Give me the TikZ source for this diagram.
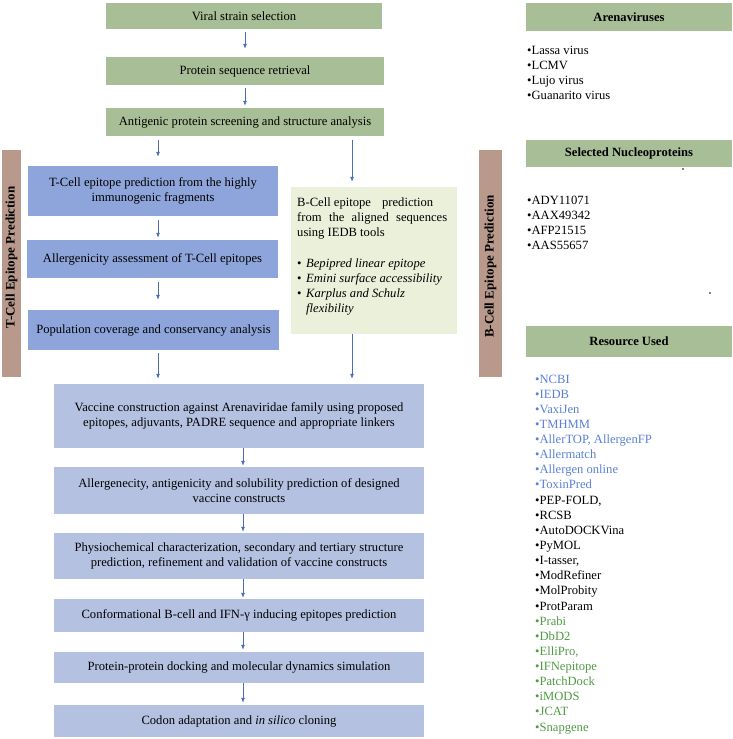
\documentclass[tikz,border=0pt]{standalone}
\usepackage{fontspec}
\setmainfont{Liberation Serif}
\usetikzlibrary{arrows.meta}
\definecolor{hgreen}{HTML}{A8BE96}
\definecolor{tblue}{HTML}{8EA5DB}
\definecolor{vblue}{HTML}{B4C1E0}
\definecolor{bfill}{HTML}{EBF0DA}
\definecolor{sidebar}{HTML}{B8998C}
\definecolor{arrowc}{HTML}{4A6DB5}
\definecolor{rblue}{HTML}{5A80D6}
\definecolor{rgreen}{HTML}{4F9A43}
\begin{document}
\begin{tikzpicture}[x=1pt,y=-1pt,
  box/.style={draw=none, inner sep=1pt, align=center, font=\fontsize{12.6}{15.3}\selectfont},
  gbox/.style={box, fill=hgreen},
  hbox/.style={box, fill=hgreen, font=\bfseries\fontsize{12.6}{15.3}\selectfont},
  tbox/.style={box, fill=tblue},
  vbox/.style={box, fill=vblue},
  sidebox/.style={draw=none, fill=sidebar, inner sep=0pt, rotate=90, font=\bfseries\fontsize{13}{15}\selectfont},
  listtext/.style={inner sep=0pt, align=left, anchor=north west, font=\fontsize{12.6}{15.13}\selectfont},
  arr/.style={draw=arrowc, line width=0.8pt, -{Latex[length=5pt,width=4pt]}}
]
\useasboundingbox (0,0) rectangle (733,739);

% top flow
\node[gbox, minimum width=276, minimum height=26] (n1) at (244,16) {Viral strain selection};
\node[gbox, minimum width=278, minimum height=28] (n2) at (245,71) {Protein sequence retrieval};
\node[gbox, minimum width=278, minimum height=28] (n3) at (245,122) {Antigenic protein screening and structure analysis};

% side bars
\node[sidebox, minimum width=227, minimum height=19] (tside) at (11.5,263.5) {\hspace*{12pt}T-Cell Epitope Prediction};
\node[sidebox, minimum width=227, minimum height=23] (bside) at (490.5,263.5) {B-Cell Epitope Prediction\hspace*{6pt}};

% T-cell boxes
\node[tbox, minimum width=250, minimum height=50] (t1) at (153,191) {T-Cell epitope prediction from the highly\\immunogenic fragments};
\node[tbox, minimum width=251, minimum height=38] (t2) at (152.5,259) {Allergenicity assessment of T-Cell epitopes};
\node[tbox, minimum width=251, minimum height=40] (t3) at (153.5,330) {Population coverage and conservancy analysis};

% B-cell box
\node[draw=none, fill=bfill, minimum width=166, minimum height=147, inner sep=0pt] (bbox) at (374,260.5) {};
\node[listtext, font=\fontsize{12.6}{15}\selectfont] (btxt) at (297,197.5) {%
\makebox[136pt][s]{B-Cell epitope \hfill prediction}\\
\makebox[150pt][s]{from the aligned sequences}\\
using IEDB tools\\[1pt]
\mbox{}\\
\makebox[9pt][l]{•}\textit{Bepipred linear epitope}\\
\makebox[9pt][l]{•}\textit{Emini surface accessibility}\\
\makebox[9pt][l]{•}\textit{Karplus and Schulz}\\
\hspace*{9pt}\textit{flexibility}};

% vaccine flow
\node[vbox, minimum width=370, minimum height=64] (v1) at (239,416) {Vaccine construction against Arenaviridae family using proposed\\epitopes, adjuvants, PADRE sequence and appropriate linkers};
\node[vbox, minimum width=370, minimum height=47] (v2) at (239,490.5) {Allergenecity, antigenicity and solubility prediction of designed\\vaccine constructs};
\node[vbox, minimum width=370, minimum height=46] (v3) at (239,556) {Physiochemical characterization, secondary and tertiary structure\\prediction, refinement and validation of vaccine constructs};
\node[vbox, minimum width=370, minimum height=33] (v4) at (239,615.5) {Conformational B-cell and IFN-γ inducing epitopes prediction};
\node[vbox, minimum width=370, minimum height=31] (v5) at (239,667.5) {Protein-protein docking and molecular dynamics simulation};
\node[vbox, minimum width=370, minimum height=32] (v6) at (239,721) {Codon adaptation and \textit{in silico} cloning};

% arrow columns
\coordinate (cM) at (245,0);
\coordinate (cL) at (158,0);
\coordinate (cR) at (352,0);
\coordinate (cV) at (243,0);

\draw[arr, shorten <=3pt, shorten >=8pt] (n1.south -| cM) -- (n2.north -| cM);
\draw[arr, shorten <=3pt, shorten >=2pt] (n2.south -| cM) -- (n3.north -| cM);
\draw[arr, shorten <=4pt, shorten >=9pt] (n3.south -| cL) -- (t1.north -| cL);
\draw[arr, shorten <=4pt, shorten >=5pt] (n3.south -| cR) -- (bbox.north -| cR);
\draw[arr, shorten <=4pt, shorten >=2pt] (t1.south -| cL) -- (t2.north -| cL);
\draw[arr, shorten <=4pt, shorten >=10pt] (t2.south -| cL) -- (t3.north -| cL);
\draw[arr, shorten <=3pt, shorten >=5pt] (t3.south -| cL) -- (v1.north -| cL);
\draw[arr, shorten <=0pt, shorten >=5pt] (bbox.south -| cR) -- (v1.north -| cR);
\draw[arr, shorten >=1pt] (v1.south -| cV) -- (v2.north -| cV);
\draw[arr, shorten >=1pt] (v2.south -| cV) -- (v3.north -| cV);
\draw[arr, shorten >=1pt] (v3.south -| cV) -- (v4.north -| cV);
\draw[arr, shorten >=2pt] (v4.south -| cV) -- (v5.north -| cV);
\draw[arr, shorten >=2pt] (v5.south -| cV) -- (v6.north -| cV);

% right column
\node[hbox, minimum width=206, minimum height=28] (h1) at (629,17) {Arenaviruses};
\node[listtext] (l1) at (527,46) {•Lassa virus\\•LCMV\\•Lujo virus\\•Guanarito virus};
\node[hbox, minimum width=206, minimum height=27] (h2) at (629,153.5) {Selected Nucleoproteins};
\node[listtext] (l2) at (527,196) {•ADY11071\\•AAX49342\\•AFP21515\\•AAS55657};
\node[hbox, minimum width=206, minimum height=31] (h3) at (629,341.5) {Resource Used};
\node[listtext] (l3) at (535,374.5) {%
\textcolor{rblue}{•NCBI}\\
\textcolor{rblue}{•IEDB}\\
\textcolor{rblue}{•VaxiJen}\\
\textcolor{rblue}{•TMHMM}\\
\textcolor{rblue}{•AllerTOP, AllergenFP}\\
\textcolor{rblue}{•Allermatch}\\
\textcolor{rblue}{•Allergen online}\\
\textcolor{rblue}{•ToxinPred}\\
•PEP-FOLD,\\
•RCSB\\
•AutoDOCKVina\\
•PyMOL\\
•I-tasser,\\
•ModRefiner\\
•MolProbity\\
•ProtParam\\
\textcolor{rgreen}{•Prabi}\\
\textcolor{rgreen}{•DbD2}\\
\textcolor{rgreen}{•ElliPro,}\\
\textcolor{rgreen}{•IFNepitope}\\
\textcolor{rgreen}{•PatchDock}\\
\textcolor{rgreen}{•iMODS}\\
\textcolor{rgreen}{•JCAT}\\
\textcolor{rgreen}{•Snapgene}};
\fill (683,169) circle (0.8);
\fill (710,293) circle (0.8);
\end{tikzpicture}
\end{document}
